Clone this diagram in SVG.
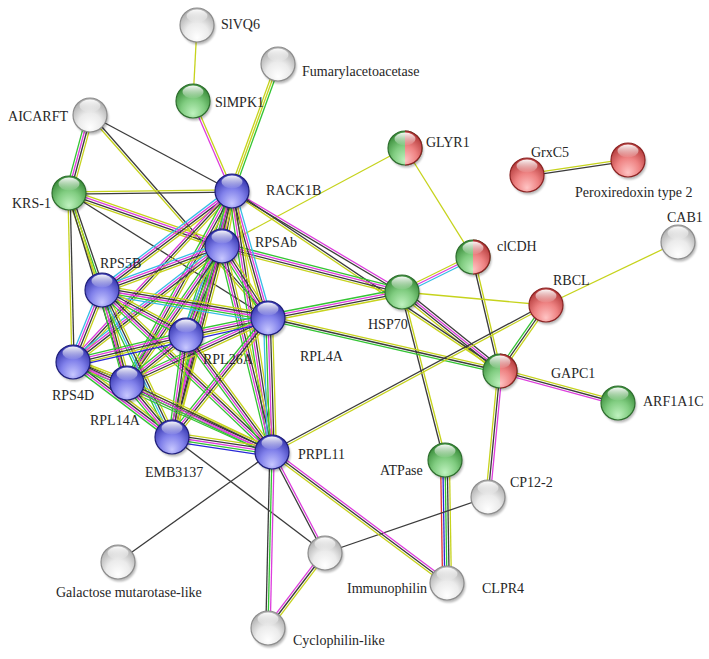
<svg xmlns="http://www.w3.org/2000/svg" xmlns:xlink="http://www.w3.org/1999/xlink" width="709" height="659" viewBox="0 0 709 659">
<style>
.ed use{fill:none;stroke-width:1.3}
.y{stroke:#c6d31c}.k{stroke:#3b3b3b}.m{stroke:#dd3ddd}.g{stroke:#33c433}.c{stroke:#37bde6}.b{stroke:#2727d6}.r{stroke:#e03535}
text{font-family:"Liberation Serif","Times New Roman",serif;font-size:14px;fill:#262626}
</style>
<defs>
<filter id="blur" x="-50%" y="-50%" width="200%" height="200%"><feGaussianBlur stdDeviation="1.3"/></filter>
<radialGradient id="gB" cx="0.5" cy="0.7" r="0.62" fx="0.5" fy="0.88"><stop offset="0" stop-color="#c8c8ff"/><stop offset="0.55" stop-color="#8080ea"/><stop offset="1" stop-color="#3c3cb4"/></radialGradient>
<radialGradient id="gG" cx="0.5" cy="0.7" r="0.62" fx="0.5" fy="0.88"><stop offset="0" stop-color="#bff2bf"/><stop offset="0.55" stop-color="#80cc80"/><stop offset="1" stop-color="#3f923f"/></radialGradient>
<radialGradient id="gR" cx="0.5" cy="0.7" r="0.62" fx="0.5" fy="0.88"><stop offset="0" stop-color="#ffc4c4"/><stop offset="0.55" stop-color="#ee8282"/><stop offset="1" stop-color="#b84040"/></radialGradient>
<radialGradient id="gW" cx="0.5" cy="0.7" r="0.62" fx="0.5" fy="0.88"><stop offset="0" stop-color="#ffffff"/><stop offset="0.55" stop-color="#ebebeb"/><stop offset="1" stop-color="#b3b3b3"/></radialGradient>
<linearGradient id="hl" x1="0" y1="0" x2="0" y2="1"><stop offset="0" stop-color="#fff" stop-opacity="0.95"/><stop offset="1" stop-color="#fff" stop-opacity="0.05"/></linearGradient>
<clipPath id="rh" clipPathUnits="objectBoundingBox"><rect x="0.5" y="-0.1" width="0.7" height="1.2"/></clipPath>
<g id="bB"><circle cx="1.5" cy="2.5" r="17" fill="#000" opacity=".28" filter="url(#blur)"/><circle r="17" fill="url(#gB)" stroke="#1e1e7a" stroke-width="1.2"/><ellipse cy="-9" rx="10.5" ry="6.5" fill="url(#hl)"/></g>
<g id="bG"><circle cx="1.5" cy="2.5" r="17" fill="#000" opacity=".28" filter="url(#blur)"/><circle r="17" fill="url(#gG)" stroke="#2e6e2e" stroke-width="1.2"/><ellipse cy="-9" rx="10.5" ry="6.5" fill="url(#hl)"/></g>
<g id="bR"><circle cx="1.5" cy="2.5" r="17" fill="#000" opacity=".28" filter="url(#blur)"/><circle r="17" fill="url(#gR)" stroke="#8b2323" stroke-width="1.2"/><ellipse cy="-9" rx="10.5" ry="6.5" fill="url(#hl)"/></g>
<g id="bW"><circle cx="1.5" cy="2.5" r="17" fill="#000" opacity=".28" filter="url(#blur)"/><circle r="17" fill="url(#gW)" stroke="#8c8c8c" stroke-width="1.2"/><ellipse cy="-9" rx="10.5" ry="6.5" fill="url(#hl)"/></g>
<g id="bGR"><circle cx="1.5" cy="2.5" r="17" fill="#000" opacity=".28" filter="url(#blur)"/><circle r="17" fill="url(#gG)" stroke="#2e6e2e" stroke-width="1.2"/><circle r="17" fill="url(#gR)" stroke="#8b2323" stroke-width="1.2" clip-path="url(#rh)"/><ellipse cy="-9" rx="10.5" ry="6.5" fill="url(#hl)"/></g>
<line id="e1" x1="197" y1="25" x2="193" y2="101"/>
<line id="e2" x1="193" y1="101" x2="232" y2="191"/>
<line id="e3" x1="278" y1="64" x2="232" y2="191"/>
<line id="e4" x1="90" y1="115" x2="69" y2="193"/>
<line id="e5" x1="90" y1="115" x2="232" y2="191"/>
<line id="e6" x1="90" y1="115" x2="268" y2="318"/>
<line id="e7" x1="69" y1="193" x2="232" y2="191"/>
<line id="e8" x1="69" y1="193" x2="222" y2="246"/>
<line id="e9" x1="69" y1="193" x2="268" y2="318"/>
<line id="e10" x1="69" y1="193" x2="102" y2="290"/>
<line id="e11" x1="69" y1="193" x2="73" y2="362"/>
<line id="e12" x1="69" y1="193" x2="127" y2="383"/>
<line id="e13" x1="405" y1="148" x2="222" y2="246"/>
<line id="e14" x1="405" y1="148" x2="473" y2="257"/>
<line id="e15" x1="527" y1="175" x2="628" y2="160"/>
<line id="e16" x1="678" y1="242" x2="546" y2="305"/>
<line id="e17" x1="473" y1="257" x2="402" y2="292"/>
<line id="e18" x1="473" y1="257" x2="500" y2="371"/>
<line id="e19" x1="402" y1="292" x2="546" y2="305"/>
<line id="e20" x1="402" y1="292" x2="500" y2="371"/>
<line id="e21" x1="402" y1="292" x2="445" y2="460"/>
<line id="e22" x1="232" y1="191" x2="402" y2="292"/>
<line id="e23" x1="232" y1="191" x2="500" y2="371"/>
<line id="e24" x1="222" y1="246" x2="402" y2="292"/>
<line id="e25" x1="268" y1="318" x2="402" y2="292"/>
<line id="e26" x1="268" y1="318" x2="500" y2="371"/>
<line id="e27" x1="546" y1="305" x2="500" y2="371"/>
<line id="e28" x1="546" y1="305" x2="272" y2="452"/>
<line id="e29" x1="500" y1="371" x2="618" y2="403"/>
<line id="e30" x1="500" y1="371" x2="488" y2="497"/>
<line id="e31" x1="445" y1="460" x2="447" y2="583"/>
<line id="e32" x1="488" y1="497" x2="325" y2="553"/>
<line id="e33" x1="272" y1="452" x2="118" y2="562"/>
<line id="e34" x1="172" y1="437" x2="325" y2="553"/>
<line id="e35" x1="272" y1="452" x2="325" y2="553"/>
<line id="e36" x1="272" y1="452" x2="268" y2="628"/>
<line id="e37" x1="272" y1="452" x2="447" y2="583"/>
<line id="e38" x1="325" y1="553" x2="268" y2="628"/>
<line id="c1" x1="232" y1="191" x2="222" y2="246"/>
<line id="c2" x1="232" y1="191" x2="102" y2="290"/>
<line id="c3" x1="232" y1="191" x2="268" y2="318"/>
<line id="c4" x1="232" y1="191" x2="186" y2="335"/>
<line id="c5" x1="232" y1="191" x2="73" y2="362"/>
<line id="c6" x1="232" y1="191" x2="127" y2="383"/>
<line id="c7" x1="232" y1="191" x2="172" y2="437"/>
<line id="c8" x1="232" y1="191" x2="272" y2="452"/>
<line id="c9" x1="222" y1="246" x2="102" y2="290"/>
<line id="c10" x1="222" y1="246" x2="268" y2="318"/>
<line id="c11" x1="222" y1="246" x2="186" y2="335"/>
<line id="c12" x1="222" y1="246" x2="73" y2="362"/>
<line id="c13" x1="222" y1="246" x2="127" y2="383"/>
<line id="c14" x1="222" y1="246" x2="172" y2="437"/>
<line id="c15" x1="222" y1="246" x2="272" y2="452"/>
<line id="c16" x1="102" y1="290" x2="268" y2="318"/>
<line id="c17" x1="102" y1="290" x2="186" y2="335"/>
<line id="c18" x1="102" y1="290" x2="73" y2="362"/>
<line id="c19" x1="102" y1="290" x2="127" y2="383"/>
<line id="c20" x1="102" y1="290" x2="172" y2="437"/>
<line id="c21" x1="102" y1="290" x2="272" y2="452"/>
<line id="c22" x1="268" y1="318" x2="186" y2="335"/>
<line id="c23" x1="268" y1="318" x2="73" y2="362"/>
<line id="c24" x1="268" y1="318" x2="127" y2="383"/>
<line id="c25" x1="268" y1="318" x2="172" y2="437"/>
<line id="c26" x1="268" y1="318" x2="272" y2="452"/>
<line id="c27" x1="186" y1="335" x2="73" y2="362"/>
<line id="c28" x1="186" y1="335" x2="127" y2="383"/>
<line id="c29" x1="186" y1="335" x2="172" y2="437"/>
<line id="c30" x1="186" y1="335" x2="272" y2="452"/>
<line id="c31" x1="73" y1="362" x2="127" y2="383"/>
<line id="c32" x1="73" y1="362" x2="172" y2="437"/>
<line id="c33" x1="73" y1="362" x2="272" y2="452"/>
<line id="c34" x1="127" y1="383" x2="172" y2="437"/>
<line id="c35" x1="127" y1="383" x2="272" y2="452"/>
<line id="c36" x1="172" y1="437" x2="272" y2="452"/>
</defs>
<rect width="709" height="659" fill="#fff"/>
<g id="connectors" class="ed">
<use href="#e1" class="y"/>
<use href="#e2" class="m" transform="translate(-1.01,.44)"/><use href="#e2" class="y" transform="translate(1.01,-.44)"/>
<use href="#e3" class="g" transform="translate(2.07,.75)"/><use href="#e3" class="y"/><use href="#e3" class="y" transform="translate(-2.07,-.75)"/>
<use href="#e4" class="y" transform="translate(3.18,.86)"/><use href="#e4" class="k" transform="translate(1.06,.29)"/><use href="#e4" class="m" transform="translate(-1.06,-.29)"/><use href="#e4" class="g" transform="translate(-3.18,-.86)"/>
<use href="#e5" class="k"/>
<use href="#e6" class="y" transform="translate(-.83,.73)"/><use href="#e6" class="k" transform="translate(.83,-.73)"/>
<use href="#e7" class="y" transform="translate(0,-1.1)"/><use href="#e7" class="k" transform="translate(0,1.1)"/>
<use href="#e8" class="y" transform="translate(1.08,-3.12)"/><use href="#e8" class="m" transform="translate(.36,-1.04)"/><use href="#e8" class="k" transform="translate(-.36,1.04)"/><use href="#e8" class="y" transform="translate(-1.08,3.12)"/>
<use href="#e9" class="k"/>
<use href="#e10" class="k" transform="translate(2.08,-.71)"/><use href="#e10" class="g"/><use href="#e10" class="y" transform="translate(-2.08,.71)"/>
<use href="#e11" class="k" transform="translate(1.1,0)"/><use href="#e11" class="y" transform="translate(-1.1,0)"/>
<use href="#e12" class="y" transform="translate(1.05,-.32)"/><use href="#e12" class="k" transform="translate(-1.05,.32)"/>
<use href="#e13" class="y"/>
<use href="#e14" class="y"/>
<use href="#e15" class="y" transform="translate(-.16,-1.09)"/><use href="#e15" class="k" transform="translate(.16,1.09)"/>
<use href="#e16" class="y"/>
<use href="#e17" class="y" transform="translate(-.97,-1.97)"/><use href="#e17" class="m"/><use href="#e17" class="c" transform="translate(.97,1.97)"/>
<use href="#e18" class="k" transform="translate(-1.07,.25)"/><use href="#e18" class="y" transform="translate(1.07,-.25)"/>
<use href="#e19" class="y"/>
<use href="#e20" class="k" transform="translate(2.07,-2.57)"/><use href="#e20" class="m" transform="translate(.69,-.86)"/><use href="#e20" class="k" transform="translate(-.69,.86)"/><use href="#e20" class="y" transform="translate(-2.07,2.57)"/>
<use href="#e21" class="k" transform="translate(-1.07,.27)"/><use href="#e21" class="y" transform="translate(1.07,-.27)"/>
<use href="#e22" class="m" transform="translate(.56,-.95)"/><use href="#e22" class="k" transform="translate(-.56,.95)"/>
<use href="#e23" class="k" transform="translate(.61,-.91)"/><use href="#e23" class="y" transform="translate(-.61,.91)"/>
<use href="#e24" class="g" transform="translate(.81,-3.2)"/><use href="#e24" class="m" transform="translate(.27,-1.07)"/><use href="#e24" class="k" transform="translate(-.27,1.07)"/><use href="#e24" class="y" transform="translate(-.81,3.2)"/>
<use href="#e25" class="g" transform="translate(-.63,-3.24)"/><use href="#e25" class="m" transform="translate(-.21,-1.08)"/><use href="#e25" class="k" transform="translate(.21,1.08)"/><use href="#e25" class="y" transform="translate(.63,3.24)"/>
<use href="#e26" class="y" transform="translate(.49,-2.14)"/><use href="#e26" class="k"/><use href="#e26" class="g" transform="translate(-.49,2.14)"/>
<use href="#e27" class="g" transform="translate(-1.81,-1.26)"/><use href="#e27" class="k"/><use href="#e27" class="y" transform="translate(1.81,1.26)"/>
<use href="#e28" class="k" transform="translate(-.52,-.97)"/><use href="#e28" class="y" transform="translate(.52,.97)"/>
<use href="#e29" class="y" transform="translate(.58,-2.12)"/><use href="#e29" class="k"/><use href="#e29" class="m" transform="translate(-.58,2.12)"/>
<use href="#e30" class="y" transform="translate(-2.19,-.21)"/><use href="#e30" class="k"/><use href="#e30" class="m" transform="translate(2.19,.21)"/>
<use href="#e31" class="r" transform="translate(-4.4,.08)"/><use href="#e31" class="b" transform="translate(-2.2,.04)"/><use href="#e31" class="g"/><use href="#e31" class="k" transform="translate(2.2,-.04)"/><use href="#e31" class="y" transform="translate(4.4,-.08)"/>
<use href="#e32" class="k"/>
<use href="#e33" class="k"/>
<use href="#e34" class="k"/>
<use href="#e35" class="k" transform="translate(-.97,.51)"/><use href="#e35" class="m" transform="translate(.97,-.51)"/>
<use href="#e36" class="k" transform="translate(-2.2,-.05)"/><use href="#e36" class="g"/><use href="#e36" class="m" transform="translate(2.2,.05)"/>
<use href="#e37" class="m" transform="translate(1.32,-1.76)"/><use href="#e37" class="k"/><use href="#e37" class="y" transform="translate(-1.32,1.76)"/>
<use href="#e38" class="m" transform="translate(-1.75,-1.33)"/><use href="#e38" class="k"/><use href="#e38" class="y" transform="translate(1.75,1.33)"/>
<use href="#c1" class="y" transform="translate(4.32,.78)"/><use href="#c1" class="k" transform="translate(2.16,.39)"/><use href="#c1" class="m"/><use href="#c1" class="g" transform="translate(-2.16,-.39)"/><use href="#c1" class="c" transform="translate(-4.32,-.78)"/>
<use href="#c2" class="y" transform="translate(2,2.63)"/><use href="#c2" class="k" transform="translate(.67,.88)"/><use href="#c2" class="m" transform="translate(-.67,-.88)"/><use href="#c2" class="c" transform="translate(-2,-2.63)"/>
<use href="#c3" class="c" transform="translate(3.18,-.9)"/><use href="#c3" class="m" transform="translate(1.06,-.3)"/><use href="#c3" class="k" transform="translate(-1.06,.3)"/><use href="#c3" class="y" transform="translate(-3.18,.9)"/>
<use href="#c4" class="y" transform="translate(3.14,1)"/><use href="#c4" class="k" transform="translate(1.05,.34)"/><use href="#c4" class="m" transform="translate(-1.05,-.34)"/><use href="#c4" class="g" transform="translate(-3.14,-1)"/>
<use href="#c5" class="y" transform="translate(1.61,1.5)"/><use href="#c5" class="k"/><use href="#c5" class="m" transform="translate(-1.61,-1.5)"/>
<use href="#c6" class="y" transform="translate(2.9,1.59)"/><use href="#c6" class="k" transform="translate(.97,.53)"/><use href="#c6" class="m" transform="translate(-.97,-.53)"/><use href="#c6" class="g" transform="translate(-2.9,-1.59)"/>
<use href="#c7" class="y" transform="translate(3.21,.78)"/><use href="#c7" class="k" transform="translate(1.07,.26)"/><use href="#c7" class="m" transform="translate(-1.07,-.26)"/><use href="#c7" class="g" transform="translate(-3.21,-.78)"/>
<use href="#c8" class="y" transform="translate(3.27,-.5)"/><use href="#c8" class="k" transform="translate(1.09,-.17)"/><use href="#c8" class="m" transform="translate(-1.09,.17)"/><use href="#c8" class="g" transform="translate(-3.27,.5)"/>
<use href="#c9" class="y" transform="translate(1.14,3.1)"/><use href="#c9" class="k" transform="translate(.38,1.04)"/><use href="#c9" class="m" transform="translate(-.38,-1.04)"/><use href="#c9" class="c" transform="translate(-1.14,-3.1)"/>
<use href="#c10" class="y" transform="translate(2.78,-1.79)"/><use href="#c10" class="k" transform="translate(.93,-.6)"/><use href="#c10" class="m" transform="translate(-.93,.6)"/><use href="#c10" class="g" transform="translate(-2.78,1.79)"/>
<use href="#c11" class="y" transform="translate(4.08,1.66)"/><use href="#c11" class="k" transform="translate(2.04,.83)"/><use href="#c11" class="m"/><use href="#c11" class="g" transform="translate(-2.04,-.83)"/><use href="#c11" class="c" transform="translate(-4.08,-1.66)"/>
<use href="#c12" class="y" transform="translate(2.03,2.61)"/><use href="#c12" class="k" transform="translate(.68,.87)"/><use href="#c12" class="m" transform="translate(-.68,-.87)"/><use href="#c12" class="c" transform="translate(-2.03,-2.61)"/>
<use href="#c13" class="y" transform="translate(2.72,1.88)"/><use href="#c13" class="k" transform="translate(.91,.63)"/><use href="#c13" class="m" transform="translate(-.91,-.63)"/><use href="#c13" class="g" transform="translate(-2.72,-1.88)"/>
<use href="#c14" class="y" transform="translate(3.2,.84)"/><use href="#c14" class="k" transform="translate(1.07,.28)"/><use href="#c14" class="m" transform="translate(-1.07,-.28)"/><use href="#c14" class="g" transform="translate(-3.2,-.84)"/>
<use href="#c15" class="y" transform="translate(3.21,-.78)"/><use href="#c15" class="k" transform="translate(1.07,-.26)"/><use href="#c15" class="m" transform="translate(-1.07,.26)"/><use href="#c15" class="g" transform="translate(-3.21,.78)"/>
<use href="#c16" class="y" transform="translate(.74,-4.34)"/><use href="#c16" class="k" transform="translate(.37,-2.17)"/><use href="#c16" class="m"/><use href="#c16" class="g" transform="translate(-.37,2.17)"/><use href="#c16" class="c" transform="translate(-.74,4.34)"/>
<use href="#c17" class="y" transform="translate(1.56,-2.91)"/><use href="#c17" class="k" transform="translate(.52,-.97)"/><use href="#c17" class="m" transform="translate(-.52,.97)"/><use href="#c17" class="g" transform="translate(-1.56,2.91)"/>
<use href="#c18" class="y" transform="translate(3.06,1.23)"/><use href="#c18" class="k" transform="translate(1.02,.41)"/><use href="#c18" class="m" transform="translate(-1.02,-.41)"/><use href="#c18" class="c" transform="translate(-3.06,-1.23)"/>
<use href="#c19" class="y" transform="translate(3.18,-.86)"/><use href="#c19" class="k" transform="translate(1.06,-.29)"/><use href="#c19" class="m" transform="translate(-1.06,.29)"/><use href="#c19" class="g" transform="translate(-3.18,.86)"/>
<use href="#c20" class="y" transform="translate(2.99,-1.43)"/><use href="#c20" class="k" transform="translate(1,-.48)"/><use href="#c20" class="c" transform="translate(-1,.48)"/><use href="#c20" class="g" transform="translate(-2.99,1.43)"/>
<use href="#c21" class="y" transform="translate(2.28,-2.39)"/><use href="#c21" class="k" transform="translate(.76,-.8)"/><use href="#c21" class="m" transform="translate(-.76,.8)"/><use href="#c21" class="g" transform="translate(-2.28,2.39)"/>
<use href="#c22" class="y" transform="translate(.68,3.24)"/><use href="#c22" class="k" transform="translate(.23,1.08)"/><use href="#c22" class="m" transform="translate(-.23,-1.08)"/><use href="#c22" class="g" transform="translate(-.68,-3.24)"/>
<use href="#c24" class="y" transform="translate(1.38,3)"/><use href="#c24" class="k" transform="translate(.46,1)"/><use href="#c24" class="m" transform="translate(-.46,-1)"/><use href="#c24" class="g" transform="translate(-1.38,-3)"/>
<use href="#c25" class="y" transform="translate(2.57,2.07)"/><use href="#c25" class="k" transform="translate(.86,.69)"/><use href="#c25" class="m" transform="translate(-.86,-.69)"/><use href="#c25" class="g" transform="translate(-2.57,-2.07)"/>
<use href="#c26" class="y" transform="translate(4.4,-.14)"/><use href="#c26" class="k" transform="translate(2.2,-.07)"/><use href="#c26" class="m"/><use href="#c26" class="g" transform="translate(-2.2,.07)"/><use href="#c26" class="c" transform="translate(-4.4,.14)"/>
<use href="#c27" class="y" transform="translate(.77,3.21)"/><use href="#c27" class="k" transform="translate(.26,1.07)"/><use href="#c27" class="m" transform="translate(-.26,-1.07)"/><use href="#c27" class="g" transform="translate(-.77,-3.21)"/>
<use href="#c28" class="y" transform="translate(2.09,2.57)"/><use href="#c28" class="k" transform="translate(.7,.86)"/><use href="#c28" class="m" transform="translate(-.7,-.86)"/><use href="#c28" class="g" transform="translate(-2.09,-2.57)"/>
<use href="#c29" class="y" transform="translate(3.27,.45)"/><use href="#c29" class="k" transform="translate(1.09,.15)"/><use href="#c29" class="m" transform="translate(-1.09,-.15)"/><use href="#c29" class="g" transform="translate(-3.27,-.45)"/>
<use href="#c30" class="y" transform="translate(2.66,-1.95)"/><use href="#c30" class="k" transform="translate(.89,-.65)"/><use href="#c30" class="m" transform="translate(-.89,.65)"/><use href="#c30" class="g" transform="translate(-2.66,1.95)"/>
<use href="#c31" class="y" transform="translate(1.2,-3.08)"/><use href="#c31" class="k" transform="translate(.4,-1.03)"/><use href="#c31" class="m" transform="translate(-.4,1.03)"/><use href="#c31" class="g" transform="translate(-1.2,3.08)"/>
<use href="#c32" class="y" transform="translate(2,-2.63)"/><use href="#c32" class="k" transform="translate(.67,-.88)"/><use href="#c32" class="m" transform="translate(-.67,.88)"/><use href="#c32" class="g" transform="translate(-2,2.63)"/>
<use href="#c33" class="y" transform="translate(1.37,-3)"/><use href="#c33" class="k" transform="translate(.46,-1)"/><use href="#c33" class="m" transform="translate(-.46,1)"/><use href="#c33" class="g" transform="translate(-1.37,3)"/>
<use href="#c34" class="y" transform="translate(2.54,-2.12)"/><use href="#c34" class="k" transform="translate(.85,-.71)"/><use href="#c34" class="m" transform="translate(-.85,.71)"/><use href="#c34" class="g" transform="translate(-2.54,2.12)"/>
<use href="#c35" class="y" transform="translate(1.43,-2.99)"/><use href="#c35" class="k" transform="translate(.48,-1)"/><use href="#c35" class="m" transform="translate(-.48,1)"/><use href="#c35" class="g" transform="translate(-1.43,2.99)"/>
<use href="#c36" class="y" transform="translate(.66,-4.36)"/><use href="#c36" class="k" transform="translate(.33,-2.18)"/><use href="#c36" class="m"/><use href="#c36" class="g" transform="translate(-.33,2.18)"/><use href="#c36" class="b" transform="translate(-.66,4.36)"/>
<use href="#c23" class="b" transform="translate(.9,4.4)"/>
</g>
<g id="nodes">
<g id="n-SlVQ6"><use href="#bW" x="197" y="25"/><text x="221" y="29">SlVQ6</text></g>
<g id="n-Fumarylacetoacetase"><use href="#bW" x="278" y="64"/><text x="302" y="76">Fumarylacetoacetase</text></g>
<g id="n-SlMPK1"><use href="#bG" x="193" y="101"/><text x="215" y="107">SlMPK1</text></g>
<g id="n-AICARFT"><use href="#bW" x="90" y="115"/><text x="68" y="121" text-anchor="end">AICARFT</text></g>
<g id="n-KRS-1"><use href="#bG" x="69" y="193"/><text x="12" y="208">KRS-1</text></g>
<g id="n-RACK1B"><use href="#bB" x="232" y="191"/><text x="266" y="195">RACK1B</text></g>
<g id="n-GLYR1"><use href="#bGR" x="405" y="148"/><text x="426" y="147">GLYR1</text></g>
<g id="n-GrxC5"><use href="#bR" x="527" y="175"/><text x="531" y="157">GrxC5</text></g>
<g id="n-Peroxiredoxin"><use href="#bR" x="628" y="160"/><text x="575" y="197">Peroxiredoxin type 2</text></g>
<g id="n-CAB1"><use href="#bW" x="678" y="242"/><text x="667" y="222">CAB1</text></g>
<g id="n-clCDH"><use href="#bGR" x="473" y="257"/><text x="497" y="251">clCDH</text></g>
<g id="n-RPSAb"><use href="#bB" x="222" y="246"/><text x="255" y="247">RPSAb</text></g>
<g id="n-RPS5B"><use href="#bB" x="102" y="290"/><text x="100" y="268">RPS5B</text></g>
<g id="n-HSP70"><use href="#bG" x="402" y="292"/><text x="368" y="329">HSP70</text></g>
<g id="n-RBCL"><use href="#bR" x="546" y="305"/><text x="553" y="285">RBCL</text></g>
<g id="n-RPL4A"><use href="#bB" x="268" y="318"/><text x="300" y="361">RPL4A</text></g>
<g id="n-RPL26A"><use href="#bB" x="186" y="335"/><text x="203" y="364">RPL26A</text></g>
<g id="n-RPS4D"><use href="#bB" x="73" y="362"/><text x="52" y="400">RPS4D</text></g>
<g id="n-GAPC1"><use href="#bGR" x="500" y="371"/><text x="551" y="378">GAPC1</text></g>
<g id="n-RPL14A"><use href="#bB" x="127" y="383"/><text x="90" y="425">RPL14A</text></g>
<g id="n-ARF1A1C"><use href="#bG" x="618" y="403"/><text x="643" y="406">ARF1A1C</text></g>
<g id="n-EMB3137"><use href="#bB" x="172" y="437"/><text x="145" y="477">EMB3137</text></g>
<g id="n-PRPL11"><use href="#bB" x="272" y="452"/><text x="298" y="459">PRPL11</text></g>
<g id="n-ATPase"><use href="#bG" x="445" y="460"/><text x="380" y="475">ATPase</text></g>
<g id="n-CP12-2"><use href="#bW" x="488" y="497"/><text x="510" y="487">CP12-2</text></g>
<g id="n-Galactose"><use href="#bW" x="118" y="562"/><text x="56" y="597">Galactose mutarotase-like</text></g>
<g id="n-Immunophilin"><use href="#bW" x="325" y="553"/><text x="347" y="593">Immunophilin</text></g>
<g id="n-CLPR4"><use href="#bW" x="447" y="583"/><text x="482" y="593">CLPR4</text></g>
<g id="n-Cyclophilin"><use href="#bW" x="268" y="628"/><text x="293" y="645">Cyclophilin-like</text></g>
</g>
</svg>
